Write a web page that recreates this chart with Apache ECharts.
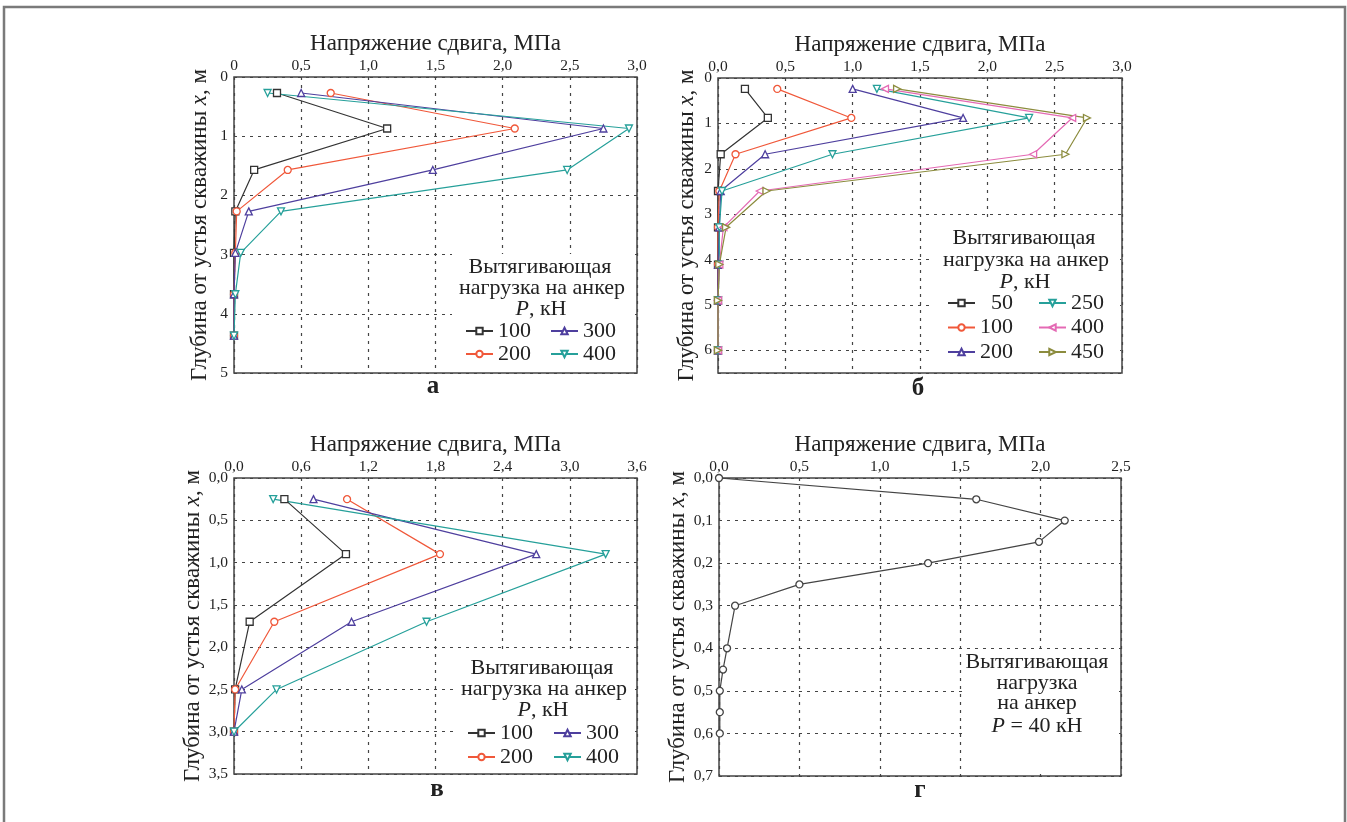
<!DOCTYPE html>
<html>
<head>
<meta charset="utf-8">
<title>Напряжение сдвига</title>
<script src="https://cdn.jsdelivr.net/npm/echarts@6/dist/echarts.min.js"></script>
<style>
  html, body { margin: 0; padding: 0; background: #fff; }
  #main { width: 1347px; height: 822px; }
</style>
</head>
<body>
<div id="main"></div>
<script>
// панель а
var depthA = [0.27, 0.87, 1.57, 2.27, 2.97, 3.67, 4.37];
var a100 = [0.32, 1.14, 0.15, 0.01, 0, 0, 0];
var a200 = [0.72, 2.09, 0.40, 0.02, 0.01, 0, 0];
var a300 = [0.50, 2.75, 1.48, 0.11, 0.01, 0, 0];
var a400 = [0.25, 2.94, 2.48, 0.35, 0.05, 0.01, 0];
// панель б
var depthB = [0.24, 0.88, 1.68, 2.49, 3.29, 4.11, 4.90, 6.00];
var b50  = [0.20, 0.37, 0.02, 0, 0, 0, 0, 0];
var b100 = [0.44, 0.99, 0.13, 0.01, 0, 0, 0, 0];
var b200 = [1.00, 1.82, 0.35, 0.02, 0.01, 0, 0, 0];
var b250 = [1.18, 2.31, 0.85, 0.03, 0.01, 0.01, 0, 0];
var b400 = [1.24, 2.63, 2.34, 0.31, 0.04, 0.01, 0, 0];
var b450 = [1.33, 2.74, 2.58, 0.36, 0.06, 0.01, 0, 0];
// панель в
var depthC = [0.25, 0.90, 1.70, 2.50, 3.00];
var c100 = [0.45, 1.00, 0.14, 0.01, 0];
var c200 = [1.01, 1.84, 0.36, 0.01, 0];
var c300 = [0.71, 2.70, 1.05, 0.07, 0];
var c400 = [0.35, 3.32, 1.72, 0.38, 0];
// панель г
var depthD = [0, 0.05, 0.10, 0.15, 0.20, 0.25, 0.30, 0.40, 0.45, 0.50, 0.55, 0.60];
var d40 = [0, 1.60, 2.15, 1.99, 1.30, 0.50, 0.10, 0.05, 0.025, 0.005, 0.005, 0.005];

var FONT = '"Liberation Serif", "DejaVu Serif", serif';
var TXT = '#222';
var C_BLACK = '#333', C_RED = '#f0583a', C_PURPLE = '#4e3f9e', C_TEAL = '#26a09a',
    C_PINK = '#e46ab4', C_OLIVE = '#8c8c3e';

function fmt(dec, plainZero) {
  return function (v) {
    if (plainZero && v === 0) return '0';
    return v.toFixed(dec).replace('.', ',');
  };
}

var grids = [
  { left: 234, top: 77, width: 403, height: 296 },
  { left: 718, top: 78, width: 404, height: 295 },
  { left: 234, top: 478, width: 403, height: 296 },
  { left: 719, top: 478, width: 402, height: 298 }
];
var xCfg = [
  { max: 3, interval: 0.5, f: fmt(1, true) },
  { max: 3, interval: 0.5, f: fmt(1) },
  { max: 3.6, interval: 0.6, f: fmt(1) },
  { max: 2.5, interval: 0.5, f: fmt(1) }
];
var yCfg = [
  { max: 5, interval: 1, f: fmt(0), gap: 23 },
  { max: 6.5, interval: 1, f: fmt(0), gap: 20 },
  { max: 3.5, interval: 0.5, f: fmt(1), gap: 25 },
  { max: 0.7, interval: 0.1, f: fmt(1), gap: 22 }
];

var split = { show: true, lineStyle: { color: '#444', width: 1.2, type: [3, 5] } };

var xAxes = xCfg.map(function (c, i) {
  return {
    type: 'value', gridIndex: i, position: 'top', min: 0, max: c.max, interval: c.interval,
    name: 'Напряжение сдвига, МПа', nameLocation: 'middle', nameGap: 22,
    nameTextStyle: { fontFamily: FONT, fontSize: 23, color: TXT },
    axisLine: { show: false }, axisTick: { show: false },
    axisLabel: { formatter: c.f, fontFamily: FONT, fontSize: 15.5, color: TXT, margin: 3 },
    splitLine: split
  };
});
var yAxes = yCfg.map(function (c, i) {
  return {
    type: 'value', gridIndex: i, inverse: true, min: 0, max: c.max, interval: c.interval,
    name: '{n|Глубина от устья скважины }{i|x}{n|, м}', nameLocation: 'middle', nameGap: c.gap,
    nameTextStyle: { fontFamily: FONT, fontSize: 23, color: TXT,
      rich: { n: { fontFamily: FONT, fontSize: 23, color: TXT },
              i: { fontFamily: FONT, fontSize: 23, color: TXT, fontStyle: 'italic' } } },
    axisLine: { show: false }, axisTick: { show: false },
    axisLabel: { formatter: c.f, fontFamily: FONT, fontSize: 15.5, color: TXT, margin: 6,
                 showMaxLabel: i !== 1 },
    splitLine: split
  };
});

function line(name, gi, xs, ys, color, symbol, rot) {
  return {
    type: 'line', name: name, xAxisIndex: gi, yAxisIndex: gi,
    data: xs.map(function (v, k) { return [v, ys[k]]; }),
    symbol: symbol, symbolRotate: rot || 0, symbolSize: 7, showAllSymbol: true,
    itemStyle: { color: '#fff', borderColor: color, borderWidth: 1.3 },
    lineStyle: { color: color, width: 1.2 },
    emphasis: { disabled: true }, silent: true, z: 3
  };
}

var series = [
  line('a100', 0, a100, depthA, C_BLACK, 'rect'),
  line('a200', 0, a200, depthA, C_RED, 'circle'),
  line('a300', 0, a300, depthA, C_PURPLE, 'triangle'),
  line('a400', 0, a400, depthA, C_TEAL, 'triangle', 180),
  line('b50', 1, b50, depthB, C_BLACK, 'rect'),
  line('b100', 1, b100, depthB, C_RED, 'circle'),
  line('b200', 1, b200, depthB, C_PURPLE, 'triangle'),
  line('b250', 1, b250, depthB, C_TEAL, 'triangle', 180),
  line('b400', 1, b400, depthB, C_PINK, 'triangle', 90),
  line('b450', 1, b450, depthB, C_OLIVE, 'triangle', -90),
  line('c100', 2, c100, depthC, C_BLACK, 'rect'),
  line('c200', 2, c200, depthC, C_RED, 'circle'),
  line('c300', 2, c300, depthC, C_PURPLE, 'triangle'),
  line('c400', 2, c400, depthC, C_TEAL, 'triangle', 180),
  line('d40', 3, d40, depthD, '#444', 'circle')
];

function leg(names, left, top, gap) {
  return {
    orient: 'vertical', left: left, top: top, data: names,
    itemWidth: 27, itemHeight: 8, itemGap: gap, padding: 0,
    selectedMode: false, backgroundColor: 'transparent',
    formatter: function (n) { var s = n.slice(1); return s.length < 3 ? '\u2007' + s : s; },
    textStyle: { fontFamily: FONT, fontSize: 22, lineHeight: 22, color: TXT, padding: [0, 0, 0, 0] }
  };
}
var legends = [
  leg(['a100', 'a200'], 465, 320, 1),
  leg(['a300', 'a400'], 550, 320, 1),
  leg(['b50', 'b100', 'b200'], 947, 292, 2.5),
  leg(['b250', 'b400', 'b450'], 1038, 292, 2.5),
  leg(['c100', 'c200'], 467, 722, 2),
  leg(['c300', 'c400'], 553, 722, 2)
];

function txt(s, x, y, size, bold) {
  return {
    type: 'text', x: x, y: y, z: 5,
    style: {
      text: s, fill: TXT, textAlign: 'center', textVerticalAlign: 'middle',
      font: (bold ? 'bold ' : '') + size + 'px ' + FONT,
      rich: { i: { fontStyle: 'italic', fontSize: size, fontFamily: FONT, fill: TXT } }
    }
  };
}
function box(x, y, w, h) {
  return { type: 'rect', z: 1, shape: { x: x, y: y, width: w, height: h }, style: { fill: '#fff' } };
}

var graphics = [
  { type: 'rect', z: 0, shape: { x: 4, y: 7, width: 1341, height: 900 },
    style: { fill: 'none', stroke: '#7a7a7a', lineWidth: 2.5 } },
  box(452, 254, 183, 117),
  box(932, 222, 188, 149),
  box(455, 652, 180, 120),
  box(964, 652, 155, 122),
  txt('Вытягивающая', 540, 267, 22),
  txt('нагрузка на анкер', 542, 288, 22),
  txt('{i|P}, кН', 541, 309, 22),
  txt('Вытягивающая', 1024, 238, 22),
  txt('нагрузка на анкер', 1026, 260, 22),
  txt('{i|P}, кН', 1025, 282, 22),
  txt('Вытягивающая', 542, 668, 22),
  txt('нагрузка на анкер', 544, 689, 22),
  txt('{i|P}, кН', 543, 710, 22),
  txt('Вытягивающая', 1037, 662, 22),
  txt('нагрузка', 1037, 683, 22),
  txt('на анкер', 1037, 703, 22),
  txt('{i|P} = 40 кН', 1037, 726, 22),
  txt('а', 433, 387, 25, true),
  txt('б', 918, 389, 25, true),
  txt('в', 437, 790, 25, true),
  txt('г', 920, 791, 25, true)
];

var myChart = echarts.init(document.getElementById('main'), null, { renderer: 'canvas' });
var option = {
  animation: false,
  backgroundColor: '#fff',
  grid: grids.map(function (g) {
    return { left: g.left, top: g.top, width: g.width, height: g.height,
             show: true, borderColor: '#444', borderWidth: 1.5, backgroundColor: 'transparent' };
  }),
  xAxis: xAxes,
  yAxis: yAxes,
  legend: legends,
  graphic: graphics,
  series: series
};
myChart.setOption(option);
</script>
</body>
</html>
